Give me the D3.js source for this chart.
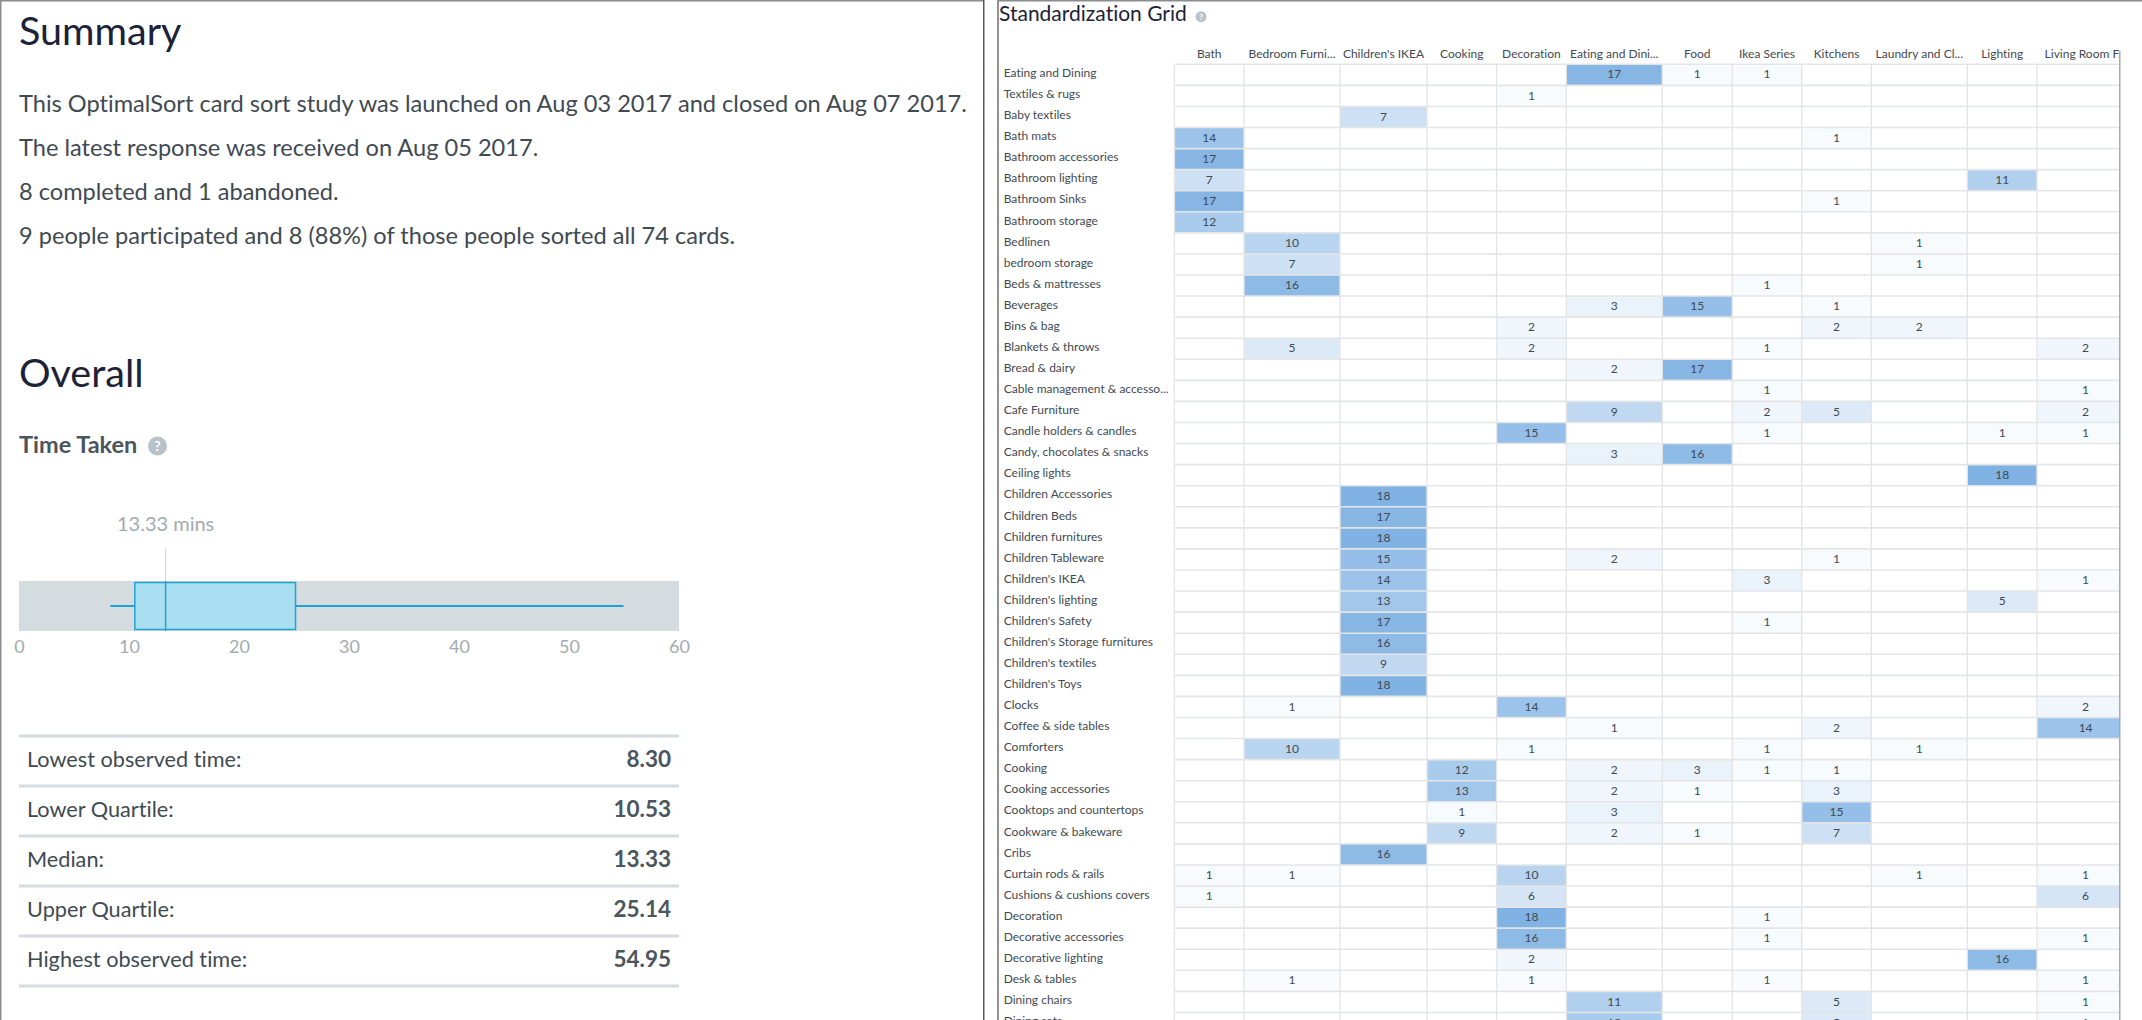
<!DOCTYPE html>
<html><head><meta charset="utf-8">
<style>
html,body{margin:0;padding:0;background:#fff;overflow:hidden}
svg{display:block}
text{font-family:Lato,"Open Sans",sans-serif;font-variant-ligatures:none}
</style>
<script src="https://cdn.jsdelivr.net/npm/d3@7"></script>
</head><body>
<script>
// ---------- data ----------
const summaryLines = [
  "This OptimalSort card sort study was launched on Aug 03 2017 and closed on Aug 07 2017.",
  "The latest response was received on Aug 05 2017.",
  "8 completed and 1 abandoned.",
  "9 people participated and 8 (88%) of those people sorted all 74 cards."
];
const lowest = 8.30, lowerQ = 10.53, median = 13.33, upperQ = 25.14, highest = 54.95;
const statLabels = ["Lowest observed time:","Lower Quartile:","Median:","Upper Quartile:","Highest observed time:"];
const statValues = [lowest, lowerQ, median, upperQ, highest];
const timeTicks = [0,10,20,30,40,50,60];
const columns = ["Bath","Bedroom Furni...","Children's IKEA","Cooking","Decoration","Eating and Dini...","Food","Ikea Series","Kitchens","Laundry and Cl...","Lighting","Living Room F..."];
const cards = ["Eating and Dining","Textiles & rugs","Baby textiles","Bath mats","Bathroom accessories","Bathroom lighting","Bathroom Sinks","Bathroom storage","Bedlinen","bedroom storage","Beds & mattresses","Beverages","Bins & bag","Blankets & throws","Bread & dairy","Cable management & accesso...","Cafe Furniture","Candle holders & candles","Candy, chocolates & snacks","Ceiling lights","Children Accessories","Children Beds","Children furnitures","Children Tableware","Children's IKEA","Children's lighting","Children's Safety","Children's Storage furnitures","Children's textiles","Children's Toys","Clocks","Coffee & side tables","Comforters","Cooking","Cooking accessories","Cooktops and countertops","Cookware & bakeware","Cribs","Curtain rods & rails","Cushions & cushions covers","Decoration","Decorative accessories","Decorative lighting","Desk & tables","Dining chairs","Dining sets"];
// one row per card, one value per column; 0 = empty cell
const grid = [
 [0,0,0,0,0,17,1,1,0,0,0,0],
 [0,0,0,0,1,0,0,0,0,0,0,0],
 [0,0,7,0,0,0,0,0,0,0,0,0],
 [14,0,0,0,0,0,0,0,1,0,0,0],
 [17,0,0,0,0,0,0,0,0,0,0,0],
 [7,0,0,0,0,0,0,0,0,0,11,0],
 [17,0,0,0,0,0,0,0,1,0,0,0],
 [12,0,0,0,0,0,0,0,0,0,0,0],
 [0,10,0,0,0,0,0,0,0,1,0,0],
 [0,7,0,0,0,0,0,0,0,1,0,0],
 [0,16,0,0,0,0,0,1,0,0,0,0],
 [0,0,0,0,0,3,15,0,1,0,0,0],
 [0,0,0,0,2,0,0,0,2,2,0,0],
 [0,5,0,0,2,0,0,1,0,0,0,2],
 [0,0,0,0,0,2,17,0,0,0,0,0],
 [0,0,0,0,0,0,0,1,0,0,0,1],
 [0,0,0,0,0,9,0,2,5,0,0,2],
 [0,0,0,0,15,0,0,1,0,0,1,1],
 [0,0,0,0,0,3,16,0,0,0,0,0],
 [0,0,0,0,0,0,0,0,0,0,18,0],
 [0,0,18,0,0,0,0,0,0,0,0,0],
 [0,0,17,0,0,0,0,0,0,0,0,0],
 [0,0,18,0,0,0,0,0,0,0,0,0],
 [0,0,15,0,0,2,0,0,1,0,0,0],
 [0,0,14,0,0,0,0,3,0,0,0,1],
 [0,0,13,0,0,0,0,0,0,0,5,0],
 [0,0,17,0,0,0,0,1,0,0,0,0],
 [0,0,16,0,0,0,0,0,0,0,0,0],
 [0,0,9,0,0,0,0,0,0,0,0,0],
 [0,0,18,0,0,0,0,0,0,0,0,0],
 [0,1,0,0,14,0,0,0,0,0,0,2],
 [0,0,0,0,0,1,0,0,2,0,0,14],
 [0,10,0,0,1,0,0,1,0,1,0,0],
 [0,0,0,12,0,2,3,1,1,0,0,0],
 [0,0,0,13,0,2,1,0,3,0,0,0],
 [0,0,0,1,0,3,0,0,15,0,0,0],
 [0,0,0,9,0,2,1,0,7,0,0,0],
 [0,0,16,0,0,0,0,0,0,0,0,0],
 [1,1,0,0,10,0,0,0,0,1,0,1],
 [1,0,0,0,6,0,0,0,0,0,0,6],
 [0,0,0,0,18,0,0,1,0,0,0,0],
 [0,0,0,0,16,0,0,1,0,0,0,1],
 [0,0,0,0,2,0,0,0,0,0,16,0],
 [0,1,0,0,1,0,0,1,0,0,0,1],
 [0,0,0,0,0,11,0,0,5,0,0,1],
 [0,0,0,0,0,12,0,0,5,0,0,1]
];
// ---------- layout ----------
const W = 2142, H = 1020;
const ink = "#3f4a52", heading = "#1c2238", muted = "#a3abb0", rule = "#d4dcdf";
const svg = d3.select("body").append("svg").attr("width",W).attr("height",H).attr("viewBox",`0 0 ${W} ${H}`);
const frame = svg.append("g");
frame.append("rect").attr("x",0).attr("y",0).attr("width",984).attr("height",1.5).attr("fill","#8a8c8e");
frame.append("rect").attr("x",997).attr("y",0).attr("width",W-997).attr("height",1.5).attr("fill","#8a8c8e");
frame.append("rect").attr("x",0).attr("y",0).attr("width",1.5).attr("height",H).attr("fill","#8a8c8e");
frame.append("rect").attr("x",983).attr("y",0).attr("width",1.5).attr("height",H).attr("fill","#55585a");
frame.append("rect").attr("x",997).attr("y",0).attr("width",2).attr("height",H).attr("fill","#8f9193");
frame.append("rect").attr("x",2119).attr("y",51).attr("width",1.5).attr("height",H-51).attr("fill","#a8aaac");

// left: text
const left = svg.append("g");
const label = (g,x,y,t,size,fill,weight,anchor) => g.append("text").attr("x",x).attr("y",y).text(t)
  .attr("font-size",size).attr("fill",fill).attr("font-weight",weight||400).attr("text-anchor",anchor||"start");
label(left,19,45,"Summary",39.5,heading);
left.selectAll("text.s").data(summaryLines).join("text").attr("class","s")
  .attr("x",19).attr("y",(d,i)=>112+i*44).text(d=>d).attr("font-size",23.6).attr("fill",ink);
label(left,19,387,"Overall",39.5,heading);
label(left,19,453,"Time Taken",23.5,"#4a555c",700);
const help = (g,cx,cy,r,size) => {
  g.append("circle").attr("cx",cx).attr("cy",cy).attr("r",r).attr("fill","#b8c2c8");
  label(g,cx,cy+size*0.36,"?",size,"#fff",700,"middle");
};
help(left,157.5,446,9.5,14);

// box plot
const x = d3.scaleLinear().domain([0,60]).range([19,679]);
const bandTop = 581, bandBottom = 631, midY = 606;
const box = svg.append("g");
box.append("rect").attr("x",x(0)).attr("y",bandTop).attr("width",x(60)-x(0)).attr("height",bandBottom-bandTop).attr("fill",rule);
box.append("line").attr("x1",x(lowest)).attr("x2",x(highest)).attr("y1",midY).attr("y2",midY).attr("stroke","#1fa3d1").attr("stroke-width",2);
box.append("rect").attr("x",x(lowerQ)).attr("y",bandTop+1.5).attr("width",x(upperQ)-x(lowerQ)).attr("height",bandBottom-bandTop-3)
  .attr("fill","#a9dff0").attr("stroke","#1fa3d1").attr("stroke-width",1.5);
box.append("line").attr("x1",x(median)).attr("x2",x(median)).attr("y1",548).attr("y2",bandTop).attr("stroke","#d6dadc").attr("stroke-width",1.2);
box.append("line").attr("x1",x(median)).attr("x2",x(median)).attr("y1",bandTop).attr("y2",bandBottom).attr("stroke","#1fa3d1").attr("stroke-width",1.5);
label(box,x(median),531,median.toFixed(2)+" mins",20,muted,400,"middle");
const axis = box.append("g").attr("transform",`translate(0,${bandBottom})`).call(d3.axisBottom(x).tickValues(timeTicks).tickSize(0).tickPadding(9));
axis.select(".domain").remove();
axis.selectAll("text").attr("font-size",18).attr("fill",muted).attr("font-family","Lato");

// stats table
const statY = d3.scaleLinear().domain([0,5]).range([736,986]);
const stats = svg.append("g");
stats.selectAll("rect").data(d3.range(6)).join("rect").attr("x",x(0)).attr("y",d=>statY(d)-1.5)
  .attr("width",x(60)-x(0)).attr("height",3).attr("fill",rule);
statLabels.forEach((t,i)=>{
  label(stats,27,statY(i)+31,t,21.7,ink);
  label(stats,671,statY(i)+31,statValues[i].toFixed(2),22.5,"#4a555c",700,"end");
});

// right: grid
label(svg,999,21,"Standardization Grid",21,heading);
help(svg,1201,16.7,5.5,8);
const colWidths = [69.6,96,87,69.6,69.7,96,70,69.5,69.5,96,69.7,97.2];
const colEdges = d3.cumsum([1174.4,...colWidths]);
const cx = d3.scaleOrdinal().domain(columns).range(colEdges);
const cw = d3.scaleOrdinal().domain(columns).range(colWidths);
const rowY = d3.scaleBand().domain(cards).range([64.3,64.3+46*21.07]);
const color = d3.scaleLinear().domain([0,18]).range(["#ffffff","#80b2e3"]);
svg.append("clipPath").attr("id","panel").append("rect").attr("x",1000).attr("y",0).attr("width",1119).attr("height",H);
const gridG = svg.append("g").attr("clip-path","url(#panel)");
const cells = cards.flatMap((c,r)=>columns.map((k,i)=>({c,k,v:grid[r][i]})));
gridG.selectAll("rect.cell").data(cells.filter(d=>d.v>0)).join("rect").attr("class","cell")
  .attr("x",d=>cx(d.k)).attr("y",d=>rowY(d.c)).attr("width",d=>cw(d.k)).attr("height",rowY.bandwidth()).attr("fill",d=>color(d.v));
gridG.selectAll("line.h").data(d3.range(47)).join("line").attr("class","h")
  .attr("x1",colEdges[0]).attr("x2",colEdges[12]).attr("y1",d=>64.3+d*rowY.bandwidth()).attr("y2",d=>64.3+d*rowY.bandwidth())
  .attr("stroke","#e3e5e7").attr("stroke-width",1.6);
gridG.selectAll("line.v").data(colEdges.slice(0,12)).join("line").attr("class","v")
  .attr("x1",d=>d).attr("x2",d=>d).attr("y1",64.3).attr("y2",H).attr("stroke","#e3e5e7").attr("stroke-width",1.4);
gridG.selectAll("text.col").data(columns).join("text").attr("class","col")
  .attr("x",d=>cx(d)+cw(d)/2).attr("y",57.5).attr("text-anchor","middle").attr("font-size",12).attr("fill",ink).text(d=>d);
gridG.selectAll("text.row").data(cards).join("text").attr("class","row")
  .attr("x",1003.7).attr("y",d=>rowY(d)+rowY.bandwidth()/2+2.2).attr("font-size",12).attr("fill",ink).text(d=>d);
gridG.selectAll("text.val").data(cells.filter(d=>d.v>0)).join("text").attr("class","val")
  .attr("x",d=>cx(d.k)+cw(d.k)/2).attr("y",d=>rowY(d.c)+rowY.bandwidth()/2+3.6).attr("text-anchor","middle")
  .attr("font-size",12).attr("fill",ink).text(d=>d.v);
</script>
</body></html>
